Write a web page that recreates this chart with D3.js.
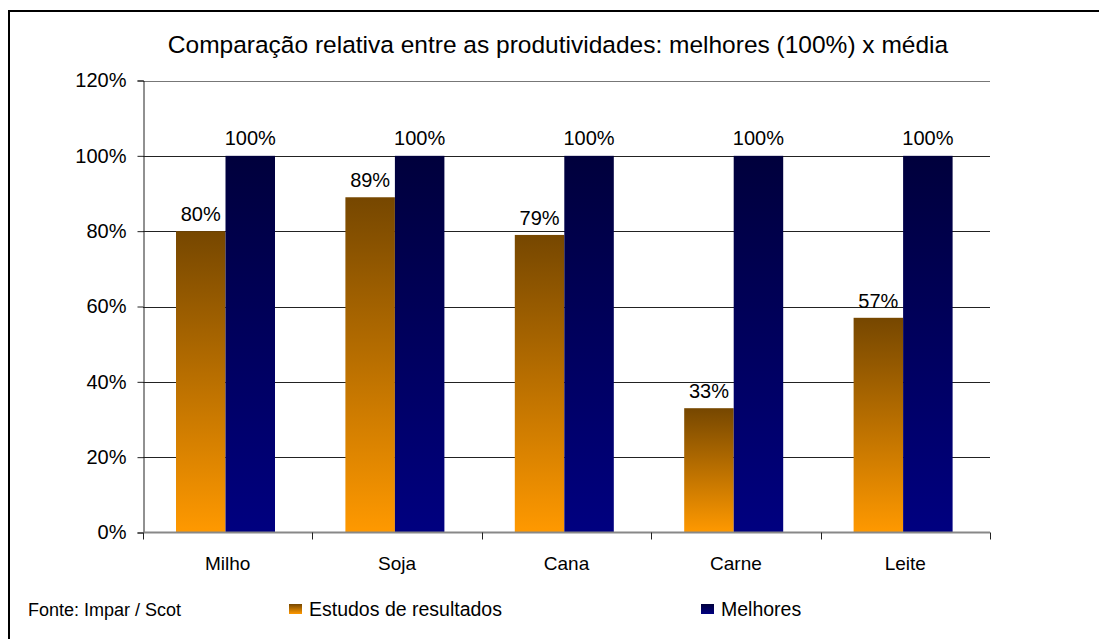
<!DOCTYPE html>
<html lang="pt">
<head>
<meta charset="UTF-8">
<title>Comparação relativa entre as produtividades</title>
<script src="https://d3js.org/d3.v7.min.js"></script>
<style>
  body { margin: 0; background: #fff; }
  text { font-family: "Liberation Sans", Arial, sans-serif; fill: #000; }
</style>
</head>
<body>
<script>
// dados
const categories = ["Milho", "Soja", "Cana", "Carne", "Leite"];
const estudos = [0.80, 0.89, 0.79, 0.33, 0.57];
const melhores = [1.00, 1.00, 1.00, 1.00, 1.00];
const yTicks = [0, 0.2, 0.4, 0.6, 0.8, 1.0, 1.2];
const seriesNames = ["Estudos de resultados", "Melhores"];

const width = 1099, height = 639;
const plot = { left: 143, right: 990, top: 80.5, bottom: 532.5 };

const svg = d3.select("body").append("svg")
  .attr("width", width)
  .attr("height", height);

// gradientes das barras
const defs = svg.append("defs");
function grad(id, top, bottom) {
  const g = defs.append("linearGradient").attr("id", id)
    .attr("x1", 0).attr("y1", 0).attr("x2", 0).attr("y2", 1);
  g.append("stop").attr("offset", "0%").attr("stop-color", top);
  g.append("stop").attr("offset", "100%").attr("stop-color", bottom);
}
grad("gOrange", "#764700", "#ff9900");
grad("gBlue", "#00003c", "#000080");

// moldura (só topo e esquerda visíveis)
svg.append("rect")
  .attr("x", 9).attr("y", 11)
  .attr("width", width + 20).attr("height", height + 20)
  .attr("fill", "none").attr("stroke", "#000").attr("stroke-width", 2);

const x = d3.scaleBand()
  .domain(categories)
  .range([plot.left, plot.right]);

const y = d3.scaleLinear()
  .domain([0, 1.2])
  .range([plot.bottom, plot.top]);

// grade
svg.append("g")
  .selectAll("line")
  .data(yTicks.filter(d => d > 0))
  .join("line")
  .attr("x1", plot.left).attr("x2", plot.right)
  .attr("y1", d => Math.round(y(d)) + 0.5).attr("y2", d => Math.round(y(d)) + 0.5)
  .attr("stroke", d => d === 1.2 ? "#777" : "#222")
  .attr("stroke-width", 1);

// barras
const groupW = 99;
const barW = groupW / 2;
const off = 33;

svg.append("g")
  .selectAll("rect")
  .data(categories)
  .join("rect")
  .attr("x", (d) => x(d) + off)
  .attr("y", (d, i) => y(estudos[i]))
  .attr("width", barW)
  .attr("height", (d, i) => y(0) - y(estudos[i]))
  .attr("fill", "url(#gOrange)");

svg.append("g")
  .selectAll("rect")
  .data(categories)
  .join("rect")
  .attr("x", (d) => x(d) + off + barW)
  .attr("y", (d, i) => y(melhores[i]))
  .attr("width", barW)
  .attr("height", (d, i) => y(0) - y(melhores[i]))
  .attr("fill", "url(#gBlue)");

// rótulos
const fmt = d3.format(".0%");
svg.append("g")
  .selectAll("text")
  .data(categories)
  .join("text")
  .attr("x", d => x(d) + off + barW / 2)
  .attr("y", (d, i) => y(estudos[i]) - 10)
  .attr("text-anchor", "middle")
  .attr("font-size", 20)
  .text((d, i) => fmt(estudos[i]));

svg.append("g")
  .selectAll("text")
  .data(categories)
  .join("text")
  .attr("x", d => x(d) + off + barW * 1.5)
  .attr("y", (d, i) => y(melhores[i]) - 11)
  .attr("text-anchor", "middle")
  .attr("font-size", 20)
  .text((d, i) => fmt(melhores[i]));

// eixo y
const yAxis = d3.axisLeft(y)
  .tickValues(yTicks)
  .tickFormat(fmt)
  .tickSize(6)
  .tickPadding(11);

const gy = svg.append("g")
  .attr("transform", `translate(${plot.left + 0.5},0)`)
  .call(yAxis);
gy.select(".domain").attr("stroke", "#222");
gy.selectAll(".tick line").attr("stroke", "#222");
gy.selectAll("text").attr("font-size", 20).attr("font-family", "Liberation Sans, Arial, sans-serif").attr("fill", "#000");

// eixo x
const gx = svg.append("g")
  .attr("transform", `translate(0,${plot.bottom})`);
gx.append("line")
  .attr("x1", plot.left).attr("x2", plot.right)
  .attr("stroke", "#888").attr("stroke-width", 2);
gx.selectAll("line.tk")
  .data(categories.concat(["end"]))
  .join("line")
  .attr("class", "tk")
  .attr("x1", (d, i) => Math.round(plot.left + i * x.bandwidth()) + 0.5)
  .attr("x2", (d, i) => Math.round(plot.left + i * x.bandwidth()) + 0.5)
  .attr("y1", 0).attr("y2", 7)
  .attr("stroke", "#222");
gx.selectAll("text")
  .data(categories)
  .join("text")
  .attr("x", d => x(d) + x.bandwidth() / 2)
  .attr("y", 37)
  .attr("text-anchor", "middle")
  .attr("font-size", 19)
  .text(d => d);

// título
svg.append("text")
  .attr("x", 558)
  .attr("y", 53)
  .attr("text-anchor", "middle")
  .attr("font-size", 24.5)
  .text("Comparação relativa entre as produtividades: melhores (100%) x média");

// fonte e legenda
svg.append("text")
  .attr("x", 28).attr("y", 616)
  .attr("font-size", 18)
  .text("Fonte: Impar / Scot");

const legend = [
  { name: seriesNames[0], fill: "url(#gOrange)", x: 289 },
  { name: seriesNames[1], fill: "url(#gBlue)", x: 701 }
];
const lg = svg.append("g").selectAll("g").data(legend).join("g")
  .attr("transform", d => `translate(${d.x},604)`);
lg.append("rect")
  .attr("width", 13).attr("height", 10)
  .attr("fill", d => d.fill);
lg.append("text")
  .attr("x", 20).attr("y", 12)
  .attr("font-size", 19.5)
  .text(d => d.name);
</script>
</body>
</html>
